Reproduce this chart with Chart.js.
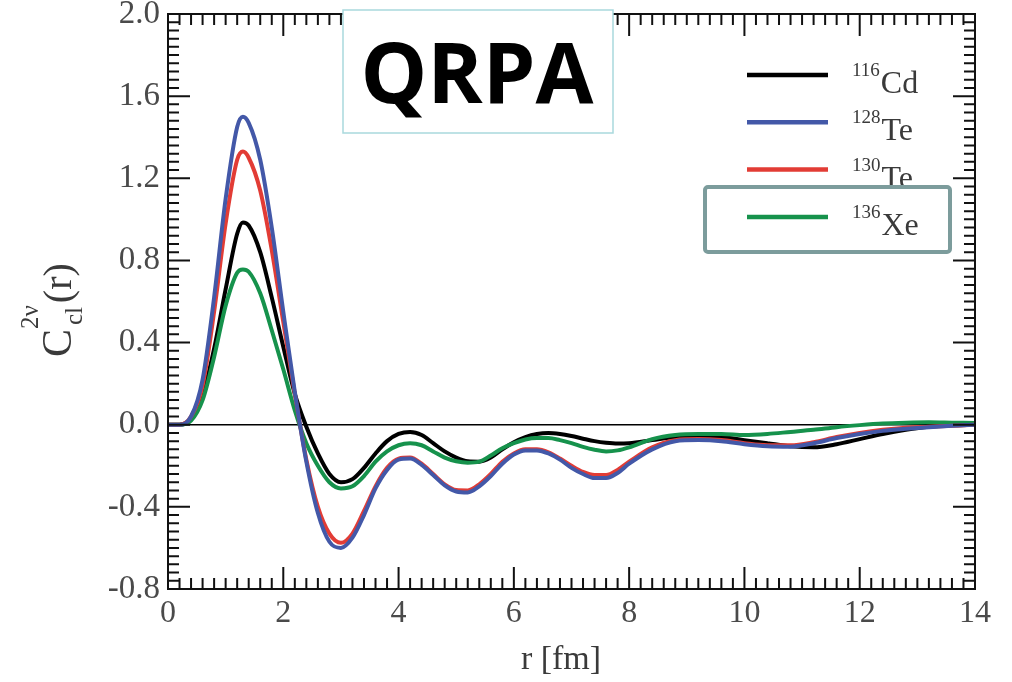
<!DOCTYPE html>
<html lang="en">
<head>
    <meta charset="UTF-8">
    <title>QRPA C_cl(r)</title>
    <style>
        body {
            margin: 0;
            padding: 0;
            background-color: white;
        }
        canvas {
            display: block;
        }
    </style>
    <script src="https://cdn.jsdelivr.net/npm/chart.js"></script>
</head>
<body>
    <canvas id="radialChart" width="1012" height="682"></canvas>

    <script>
        // r grid (fm) and the four curves
        const rVals = [0, 0.2, 0.4, 0.6, 0.8, 1.0, 1.2, 1.3, 1.4,
            1.6, 1.8, 2.0, 2.2, 2.4, 2.6, 2.8, 3.0, 3.2, 3.4, 3.6, 3.8, 4.0, 4.2, 4.4, 4.6, 4.8,
            5.0, 5.2, 5.4, 5.6, 5.8, 6.0, 6.2, 6.4, 6.6, 6.8, 7.0, 7.2, 7.4, 7.6, 7.8, 8.0,
            8.4, 8.8, 9.2, 9.6, 10.0, 10.4, 10.8, 11.2, 11.6, 12.0, 12.4, 12.8, 13.2, 13.6, 14.0];

        const cd116 = [0, 0, 0.03, 0.14, 0.37, 0.66, 0.93, 0.985, 0.97,
            0.84, 0.62, 0.38, 0.15, -0.01, -0.14, -0.24, -0.28, -0.265, -0.21, -0.14, -0.08, -0.045, -0.035, -0.05, -0.09, -0.13,
            -0.16, -0.178, -0.18, -0.16, -0.12, -0.085, -0.06, -0.045, -0.04, -0.045, -0.055, -0.068, -0.08, -0.088, -0.092, -0.09,
            -0.075, -0.06, -0.055, -0.06, -0.075, -0.09, -0.105, -0.11, -0.095, -0.07, -0.045, -0.025, -0.01, -0.003, 0];

        const te128 = [0, 0, 0.04, 0.22, 0.62, 1.10, 1.45, 1.50, 1.47,
            1.29, 0.96, 0.55, 0.16, -0.18, -0.43, -0.57, -0.60, -0.55, -0.44, -0.31, -0.22, -0.17, -0.165, -0.195, -0.245, -0.295,
            -0.325, -0.33, -0.30, -0.25, -0.19, -0.145, -0.125, -0.125, -0.14, -0.17, -0.21, -0.24, -0.26, -0.26, -0.235, -0.19,
            -0.12, -0.08, -0.075, -0.08, -0.095, -0.105, -0.107, -0.09, -0.065, -0.045, -0.03, -0.02, -0.012, -0.005, 0];

        const te130 = [0, 0, 0.04, 0.19, 0.55, 0.98, 1.29, 1.33, 1.30,
            1.14, 0.85, 0.50, 0.15, -0.17, -0.40, -0.53, -0.575, -0.53, -0.42, -0.30, -0.21, -0.165, -0.16, -0.19, -0.24, -0.29,
            -0.318, -0.32, -0.29, -0.24, -0.18, -0.14, -0.12, -0.12, -0.135, -0.165, -0.20, -0.23, -0.245, -0.245, -0.22, -0.18,
            -0.11, -0.075, -0.07, -0.075, -0.09, -0.10, -0.10, -0.085, -0.06, -0.04, -0.025, -0.015, -0.01, -0.005, 0];

        const xe136 = [0, 0, 0.02, 0.12, 0.33, 0.58, 0.74, 0.756, 0.745,
            0.64, 0.46, 0.27, 0.07, -0.09, -0.20, -0.28, -0.31, -0.30, -0.25, -0.18, -0.13, -0.10, -0.09, -0.10, -0.13, -0.16,
            -0.178, -0.185, -0.18, -0.15, -0.115, -0.09, -0.072, -0.065, -0.065, -0.075, -0.09, -0.108, -0.122, -0.13, -0.125, -0.11,
            -0.07, -0.05, -0.045, -0.045, -0.05, -0.045, -0.035, -0.025, -0.012, -0.002, 0.006, 0.01, 0.012, 0.01, 0.008];

        // legend labels: mass number (superscript) + element
        const massNums = ["116", "128", "130", "136"];
        const elements = ["Cd", "Te", "Te", "Xe"];
        const colors = ["#000000", "#4358a8", "#e23c35", "#16924c"];

        const serif = '"Liberation Serif", "Times New Roman", serif';

        function toPoints(vals) {
            return rVals.map((r, i) => ({ x: r, y: vals[i] }));
        }

        function isMajor(v, step) {
            const q = v / step;
            return Math.abs(q - Math.round(q)) < 1e-6;
        }

        // frame, inward ticks on all four sides, zero line, legend, labels
        const decorPlugin = {
            id: "decor",
            beforeDatasetsDraw(chart) {
                const { ctx, chartArea: a, scales: { y } } = chart;
                const y0 = y.getPixelForValue(0);
                ctx.save();
                ctx.strokeStyle = "#000";
                ctx.lineWidth = 1.6;
                ctx.beginPath();
                ctx.moveTo(a.left, y0);
                ctx.lineTo(a.right, y0);
                ctx.stroke();
                ctx.restore();
            },
            afterDraw(chart) {
                const { ctx, chartArea: a, scales: { x, y } } = chart;
                ctx.save();
                ctx.strokeStyle = "#111";
                ctx.lineWidth = 2;
                ctx.strokeRect(a.left, a.top, a.right - a.left, a.bottom - a.top);

                // x ticks every 0.2, major every 2
                ctx.beginPath();
                for (let k = 0; k <= 70; k++) {
                    const v = k * 0.2;
                    const px = x.getPixelForValue(v);
                    const len = isMajor(v, 2) ? 22 : 11;
                    ctx.moveTo(px, a.bottom);
                    ctx.lineTo(px, a.bottom - len);
                    ctx.moveTo(px, a.top);
                    ctx.lineTo(px, a.top + len);
                }
                // y ticks every 0.04, major every 0.4
                for (let k = 0; k <= 70; k++) {
                    const v = -0.8 + k * 0.04;
                    const py = y.getPixelForValue(v);
                    const len = (k % 10 === 0) ? 22 : 11;
                    ctx.moveTo(a.left, py);
                    ctx.lineTo(a.left + len, py);
                    ctx.moveTo(a.right, py);
                    ctx.lineTo(a.right - len, py);
                }
                ctx.stroke();

                // QRPA label box
                ctx.fillStyle = "#fff";
                ctx.fillRect(343, 10, 270, 123);
                ctx.strokeStyle = "#a9d9dd";
                ctx.lineWidth = 1.5;
                ctx.strokeRect(343, 10, 270, 123);
                ctx.fillStyle = "#000";
                ctx.font = 'bold 84px "Open Sans", sans-serif';
                ctx.textAlign = "center";
                ctx.textBaseline = "alphabetic";
                ctx.fillText("QRPA", 477, 103);

                // legend
                ctx.textAlign = "left";
                for (let i = 0; i < massNums.length; i++) {
                    const ly = 75 + i * 47.3;
                    ctx.strokeStyle = colors[i];
                    ctx.lineWidth = 4.5;
                    ctx.beginPath();
                    ctx.moveTo(747, ly);
                    ctx.lineTo(828, ly);
                    ctx.stroke();
                    ctx.fillStyle = "#3a3a3a";
                    ctx.font = "19px " + serif;
                    ctx.fillText(massNums[i], 852, ly + 1);
                    const w = ctx.measureText(massNums[i]).width;
                    ctx.font = "32px " + serif;
                    ctx.fillText(elements[i], 852 + w + 1, ly + 18);
                }
                // highlight box round the last entry
                ctx.strokeStyle = "#7c9c9c";
                ctx.lineWidth = 4;
                ctx.beginPath();
                ctx.roundRect(705, 187, 245, 65, 3);
                ctx.stroke();

                // x axis title
                ctx.fillStyle = "#3a3a3a";
                ctx.font = "34px " + serif;
                ctx.textAlign = "center";
                ctx.fillText("r [fm]", 561, 669);

                // y axis title, rotated: C^{2v}_{cl}(r)
                ctx.translate(71, 357);
                ctx.rotate(-Math.PI / 2);
                ctx.textAlign = "left";
                ctx.font = "42px " + serif;
                ctx.fillText("C", 0, 0);
                const cw = ctx.measureText("C").width;
                ctx.font = "25px " + serif;
                ctx.fillText("2\u03bd", cw, -33);
                const sw = ctx.measureText("2\u03bd").width;
                ctx.fillText("cl", cw + 4, 11);
                ctx.font = "40px " + serif;
                ctx.fillText("(r)", cw + sw + 2, 0);
                ctx.restore();
            }
        };

        const ctx = document.getElementById("radialChart").getContext("2d");
        const datasets = [
            { label: "128Te", data: toPoints(te128), borderColor: colors[1] },
            { label: "130Te", data: toPoints(te130), borderColor: colors[2] },
            { label: "136Xe", data: toPoints(xe136), borderColor: colors[3] },
            { label: "116Cd", data: toPoints(cd116), borderColor: colors[0] }
        ].map(d => Object.assign(d, {
            borderWidth: 4,
            pointRadius: 0,
            fill: false,
            cubicInterpolationMode: "monotone"
        }));

        new Chart(ctx, {
            type: "line",
            data: { datasets: datasets },
            options: {
                responsive: false,
                animation: false,
                layout: { padding: { left: 0, right: 37, top: 14, bottom: 0 } },
                plugins: {
                    legend: { display: false },
                    tooltip: { enabled: false }
                },
                scales: {
                    x: {
                        type: "linear",
                        min: 0,
                        max: 14,
                        grid: { display: false, drawTicks: false },
                        border: { display: false },
                        ticks: {
                            stepSize: 2,
                            padding: 5,
                            color: "#4a4a4a",
                            font: { family: serif, size: 32 },
                            callback: v => String(v)
                        },
                        afterFit: s => { s.height = 93; s.paddingLeft = 0; s.paddingRight = 0; }
                    },
                    y: {
                        min: -0.8,
                        max: 2.0,
                        grid: { display: false, drawTicks: false },
                        border: { display: false },
                        ticks: {
                            stepSize: 0.4,
                            padding: 8,
                            color: "#4a4a4a",
                            font: { family: serif, size: 33 },
                            callback: v => Math.abs(v) < 1e-9 ? "0.0" : v.toFixed(1)
                        },
                        afterFit: s => { s.width = 168; s.paddingTop = 0; s.paddingBottom = 0; }
                    }
                }
            },
            plugins: [decorPlugin]
        });
    </script>
</body>
</html>
